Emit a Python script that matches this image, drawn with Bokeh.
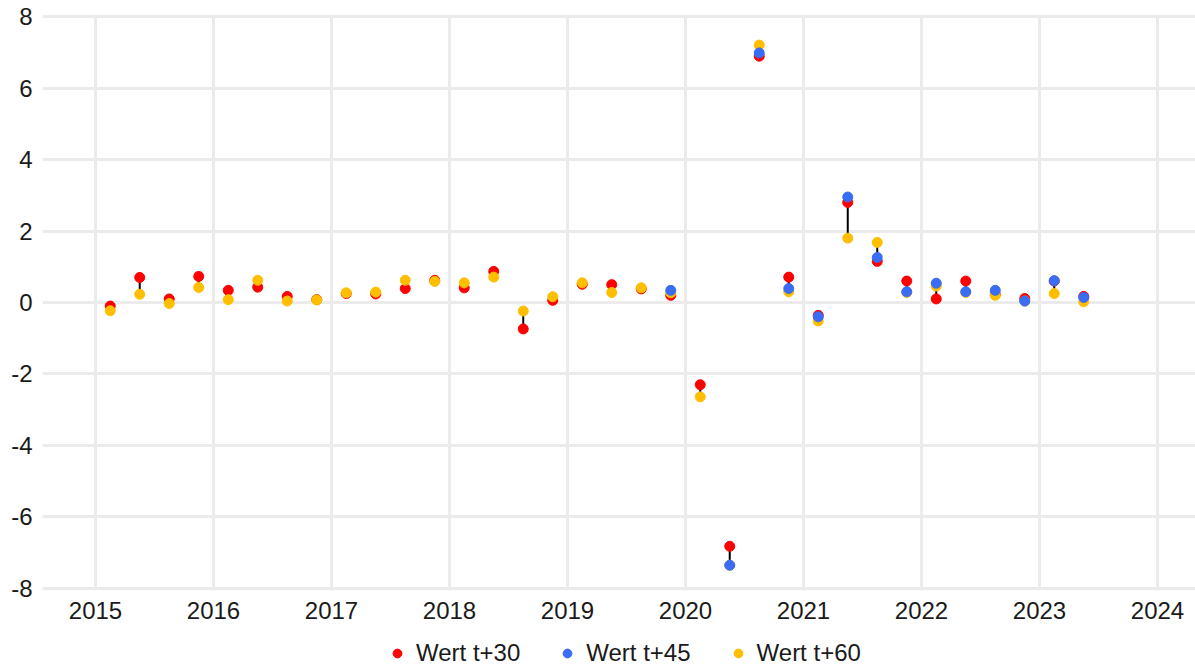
import numpy as np
from bokeh.plotting import figure
from bokeh.layouts import column
from bokeh.models import (Range1d, FixedTicker, Legend, LegendItem, ColumnDataSource,
                          CustomJSTickFormatter)
from bokeh.embed import file_html
from bokeh.resources import INLINE

# Quarters 2015Q1 .. 2023Q2
years = [2015]*4 + [2016]*4 + [2017]*4 + [2018]*4 + [2019]*4 + [2020]*4 + [2021]*4 + [2022]*4 + [2023]*2
quarters = [1, 2, 3, 4]*8 + [1, 2]

wert_t30 = [-0.10, 0.70, 0.10, 0.73,
            0.34, 0.43, 0.17, 0.08,
            0.25, 0.24, 0.39, 0.62,
            0.41, 0.87, -0.74, 0.06,
            0.51, 0.50, 0.38, 0.20,
            -2.30, -6.82, 6.89, 0.71,
            -0.36, 2.80, 1.15, 0.60,
            0.10, 0.60, 0.23, 0.11,
            0.60, 0.17]

nan = float("nan")
wert_t45 = [nan, nan, nan, nan,
            nan, nan, nan, nan,
            nan, nan, nan, nan,
            nan, nan, nan, nan,
            nan, nan, nan, 0.34,
            nan, -7.35, 6.98, 0.39,
            -0.40, 2.95, 1.26, 0.30,
            0.54, 0.30, 0.34, 0.04,
            0.61, 0.14]

wert_t60 = [-0.23, 0.23, -0.03, 0.42,
            0.08, 0.62, 0.04, 0.07,
            0.27, 0.29, 0.62, 0.59,
            0.55, 0.71, -0.24, 0.16,
            0.55, 0.28, 0.41, 0.27,
            -2.64, -7.35, 7.20, 0.30,
            -0.52, 1.80, 1.68, 0.28,
            0.46, 0.28, 0.20, 0.04,
            0.25, 0.02]

year_ticks = list(range(2015, 2025))
y_ticks = [-8, -6, -4, -2, 0, 2, 4, 6, 8]
series_labels = ["Wert t+30", "Wert t+45", "Wert t+60"]
colors = ["#ff0000", "#3a6cf4", "#ffbf00"]

x = np.array(years) + (np.array(quarters) - 0.5) / 4.0
vals = np.vstack([wert_t30, wert_t45, wert_t60])
lo = np.nanmin(vals, axis=0)
hi = np.nanmax(vals, axis=0)

FONT = "Liberation Sans"

p = figure(width=1195, height=638, output_backend="svg", toolbar_location=None,
           x_range=Range1d(2014.551, 2024.322), y_range=Range1d(-8.056, 8.056),
           min_border_left=42, min_border_right=0, min_border_top=14, min_border_bottom=48)
p.outline_line_color = None
p.background_fill_color = "white"
p.border_fill_color = "white"

for ax in (p.xaxis[0], p.yaxis[0]):
    ax.axis_line_color = None
    ax.major_tick_line_color = None
    ax.minor_tick_line_color = None
    ax.major_tick_out = 0
    ax.major_tick_in = 0
    ax.minor_tick_out = 0
    ax.minor_tick_in = 0
    ax.major_label_text_font = FONT
    ax.major_label_text_font_size = "24px"
    ax.major_label_text_color = "#1a1a1a"

p.xaxis.ticker = FixedTicker(ticks=year_ticks)
p.yaxis.ticker = FixedTicker(ticks=y_ticks)
p.yaxis.formatter = CustomJSTickFormatter(code="return String(tick)")
p.xaxis.major_label_standoff = 11
p.yaxis.major_label_standoff = 10

p.xgrid.ticker = FixedTicker(ticks=year_ticks)
p.ygrid.ticker = FixedTicker(ticks=y_ticks)
for g in (p.xgrid[0], p.ygrid[0]):
    g.grid_line_color = "#ebebeb"
    g.grid_line_width = 3

p.segment(x0=x, y0=lo, x1=x, y1=hi, line_color="black", line_width=2)

src = ColumnDataSource(dict(x=x, t30=wert_t30, t45=wert_t45, t60=wert_t60))
p.scatter("x", "t30", source=src, size=10, color=colors[0])
p.scatter("x", "t60", source=src, size=10, color=colors[2])
p.scatter("x", "t45", source=src, size=10, color=colors[1])

# legend strip below the chart
lg = figure(width=1195, height=29, output_backend="svg", toolbar_location=None,
            x_range=Range1d(0, 1), y_range=Range1d(0, 1),
            x_axis_type=None, y_axis_type=None,
            min_border_left=0, min_border_right=0, min_border_top=0, min_border_bottom=0)
lg.outline_line_color = None
lg.xgrid.visible = False
lg.ygrid.visible = False
lg.background_fill_color = "white"
lg.border_fill_color = "white"
rends = [lg.scatter(x=[nan], y=[nan], size=10, color=c) for c in colors]

legend = Legend(items=[LegendItem(label=lab, renderers=[r]) for lab, r in zip(series_labels, rends)],
                orientation="horizontal", location=(344, 0),
                glyph_width=22, glyph_height=22, label_standoff=8, spacing=36,
                padding=0, margin=0, border_line_color=None,
                background_fill_alpha=0,
                label_text_font=FONT, label_text_font_size="24px",
                label_text_color="#1a1a1a")
lg.add_layout(legend, "center")

layout = column(p, lg, spacing=0)
open("out.html", "w").write(file_html(layout, INLINE))
